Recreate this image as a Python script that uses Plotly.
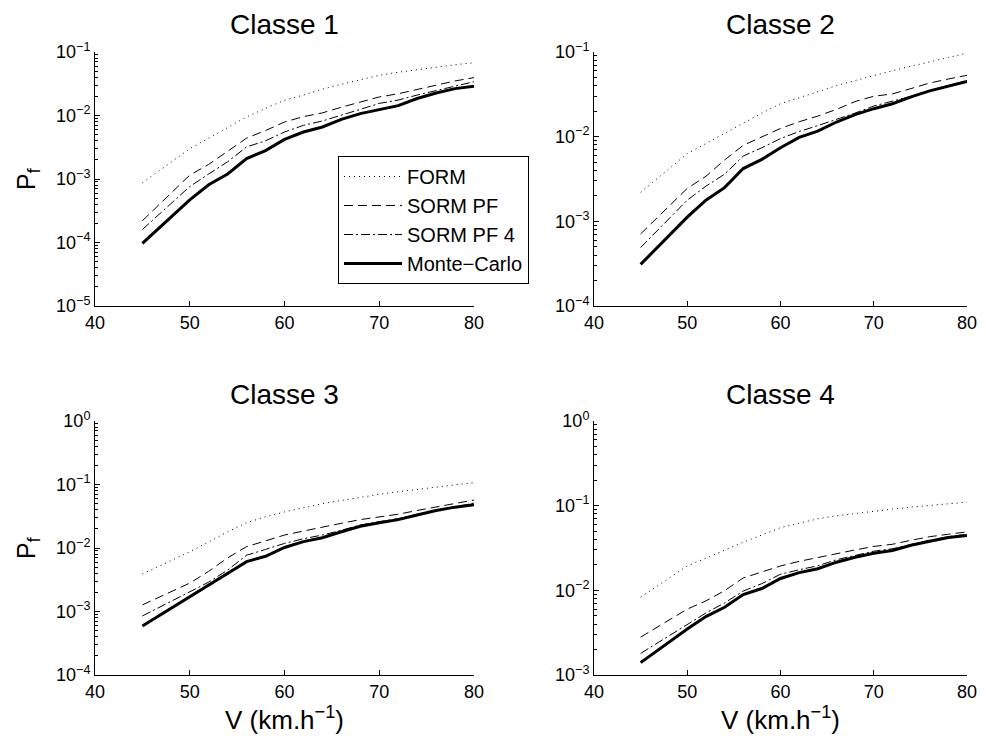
import plotly.graph_objects as go

V = [45, 50, 52, 54, 56, 58, 60, 62, 64, 66, 68, 70, 72, 74, 76, 78, 80]

series_names = ["FORM", "SORM PF", "SORM PF 4", "Monte\u2212Carlo"]

# Classe 1
c1_form = [8.7e-4, 3.0e-3, 4.4e-3, 6.5e-3, 9.5e-3, 1.3e-2, 1.74e-2, 2.1e-2, 2.6e-2, 3.1e-2, 3.7e-2, 4.3e-2, 4.8e-2, 5.3e-2, 5.8e-2, 6.3e-2, 6.8e-2]
c1_sorm = [2.2e-4, 1.15e-3, 1.7e-3, 2.7e-3, 4.4e-3, 5.8e-3, 7.9e-3, 9.6e-3, 1.1e-2, 1.35e-2, 1.65e-2, 1.96e-2, 2.2e-2, 2.6e-2, 3.0e-2, 3.5e-2, 3.95e-2]
c1_sorm4 = [1.6e-4, 7.6e-4, 1.2e-3, 1.87e-3, 3.2e-3, 4.0e-3, 5.5e-3, 7.0e-3, 8.2e-3, 1.0e-2, 1.25e-2, 1.55e-2, 1.75e-2, 2.1e-2, 2.5e-2, 2.9e-2, 3.4e-2]
c1_mc = [9.7e-5, 4.7e-4, 8.1e-4, 1.2e-3, 2.1e-3, 2.8e-3, 4.2e-3, 5.5e-3, 6.6e-3, 8.7e-3, 1.07e-2, 1.25e-2, 1.43e-2, 1.85e-2, 2.26e-2, 2.65e-2, 2.9e-2]

# Classe 2
c2_form = [2.2e-3, 6.3e-3, 8.3e-3, 1.1e-2, 1.45e-2, 1.9e-2, 2.45e-2, 2.9e-2, 3.4e-2, 4.0e-2, 4.6e-2, 5.3e-2, 6.0e-2, 6.8e-2, 7.6e-2, 8.6e-2, 9.7e-2]
c2_sorm = [7.1e-4, 2.45e-3, 3.4e-3, 5.3e-3, 7.9e-3, 1.0e-2, 1.25e-2, 1.5e-2, 1.75e-2, 2.1e-2, 2.6e-2, 3.0e-2, 3.2e-2, 3.7e-2, 4.3e-2, 4.8e-2, 5.3e-2]
c2_sorm4 = [4.9e-4, 1.78e-3, 2.6e-3, 3.6e-3, 5.9e-3, 7.4e-3, 9.5e-3, 1.15e-2, 1.35e-2, 1.6e-2, 1.9e-2, 2.3e-2, 2.6e-2, 3.0e-2, 3.5e-2, 4.0e-2, 4.6e-2]
c2_mc = [3.1e-4, 1.12e-3, 1.78e-3, 2.5e-3, 4.2e-3, 5.4e-3, 7.4e-3, 9.8e-3, 1.16e-2, 1.49e-2, 1.82e-2, 2.14e-2, 2.45e-2, 2.95e-2, 3.47e-2, 3.97e-2, 4.5e-2]

# Classe 3
c3_form = [3.9e-3, 8.7e-3, 1.25e-2, 1.8e-2, 2.5e-2, 3.1e-2, 3.7e-2, 4.3e-2, 5.0e-2, 5.6e-2, 6.3e-2, 7.0e-2, 7.7e-2, 8.4e-2, 9.1e-2, 9.9e-2, 1.07e-1]
c3_sorm = [1.27e-3, 2.8e-3, 4.3e-3, 7.0e-3, 1.05e-2, 1.3e-2, 1.6e-2, 1.85e-2, 2.1e-2, 2.45e-2, 2.8e-2, 3.1e-2, 3.4e-2, 3.9e-2, 4.4e-2, 5.0e-2, 5.7e-2]
c3_sorm4 = [8.5e-4, 2.0e-3, 2.9e-3, 4.5e-3, 7.7e-3, 9.5e-3, 1.18e-2, 1.4e-2, 1.6e-2, 1.9e-2, 2.3e-2, 2.6e-2, 2.9e-2, 3.4e-2, 3.9e-2, 4.5e-2, 5.1e-2]
c3_mc = [5.9e-4, 1.7e-3, 2.6e-3, 3.9e-3, 6.1e-3, 7.4e-3, 1.02e-2, 1.26e-2, 1.45e-2, 1.8e-2, 2.2e-2, 2.5e-2, 2.8e-2, 3.3e-2, 3.9e-2, 4.4e-2, 4.8e-2]

# Classe 4
c4_form = [8.3e-3, 1.94e-2, 2.4e-2, 3.0e-2, 3.7e-2, 4.5e-2, 5.5e-2, 6.2e-2, 7.0e-2, 7.6e-2, 8.1e-2, 8.6e-2, 9.1e-2, 9.6e-2, 1.0e-1, 1.05e-1, 1.1e-1]
c4_sorm = [2.8e-3, 6.0e-3, 7.5e-3, 9.9e-3, 1.4e-2, 1.65e-2, 1.94e-2, 2.2e-2, 2.45e-2, 2.75e-2, 3.0e-2, 3.3e-2, 3.5e-2, 3.9e-2, 4.3e-2, 4.6e-2, 4.9e-2]
c4_sorm4 = [1.8e-3, 4.0e-3, 5.4e-3, 7.1e-3, 9.8e-3, 1.2e-2, 1.55e-2, 1.75e-2, 1.95e-2, 2.3e-2, 2.6e-2, 2.9e-2, 3.1e-2, 3.5e-2, 3.9e-2, 4.3e-2, 4.6e-2]
c4_mc = [1.4e-3, 3.5e-3, 4.9e-3, 6.3e-3, 8.9e-3, 1.05e-2, 1.38e-2, 1.62e-2, 1.8e-2, 2.15e-2, 2.46e-2, 2.74e-2, 2.96e-2, 3.4e-2, 3.8e-2, 4.2e-2, 4.45e-2]

panel_titles = ["Classe 1", "Classe 2", "Classe 3", "Classe 4"]
y_ranges = [(-5, -1), (-4, -1), (-4, 0), (-3, 0)]
x_ticks = [40, 50, 60, 70, 80]
x_label = "V (km.h<sup>\u22121</sup>)"
y_label = "P<sub>f</sub>"

panels = [
    (c1_form, c1_sorm, c1_sorm4, c1_mc),
    (c2_form, c2_sorm, c2_sorm4, c2_mc),
    (c3_form, c3_sorm, c3_sorm4, c3_mc),
    (c4_form, c4_sorm, c4_sorm4, c4_mc),
]

OFF = 8  # page body margin
W, H = 986 - OFF, 740 - OFF


def px(x):
    return (x - OFF) / W


def py(y):
    return 1 - (y - OFF) / H


# pixel boxes of the axes in the screenshot (left, right, top, bottom)
boxes = [(95, 474, 52, 306), (594, 967, 52, 306), (95, 474, 421, 675), (594, 967, 421, 675)]

styles = [
    dict(color="black", width=1, dash="1px,4px"),
    dict(color="black", width=1, dash="9px,5px"),
    dict(color="black", width=1, dash="9px,3px,2px,3px"),
    dict(color="black", width=3, dash="solid"),
]

FONT = "Liberation Sans, Arial, sans-serif"
fig = go.Figure()
layout = dict(
    width=W, height=H, margin=dict(l=0, r=0, t=0, b=0, autoexpand=False),
    paper_bgcolor="white", plot_bgcolor="white",
    font=dict(family=FONT, color="black", size=18),
    showlegend=True,
    legend=dict(x=px(338), y=py(156), xanchor="left", yanchor="top",
                bordercolor="black", borderwidth=1, bgcolor="white",
                font=dict(size=20, family=FONT), itemwidth=58),
)
annotations = []
for i, (data, title, yr, box) in enumerate(zip(panels, panel_titles, y_ranges, boxes)):
    n = "" if i == 0 else str(i + 1)
    l, r, t, b = box
    xd = [px(l), px(r)]
    yd = [py(b), py(t)]
    for j, (vals, name, st) in enumerate(zip(data, series_names, styles)):
        fig.add_trace(go.Scatter(x=V, y=vals, mode="lines", name=name, line=st,
                                 xaxis="x" + n, yaxis="y" + n, showlegend=(i == 0)))
    major = [10 ** k for k in range(yr[0], yr[1] + 1)]
    minor = [m * 10 ** k for k in range(yr[0], yr[1]) for m in range(2, 10)]
    layout["xaxis" + n] = dict(domain=xd, anchor="y" + n, range=[40, 80], tickvals=x_ticks,
                              ticks="inside", ticklen=5, tickcolor="black", showline=True,
                              linecolor="black", linewidth=1, showgrid=False, zeroline=False,
                              tickfont=dict(size=18), automargin=False)
    layout["yaxis" + n] = dict(domain=yd, anchor="x" + n, type="log", range=list(yr),
                              tickvals=major,
                              ticktext=["10<sup>\u2212%d</sup>" % (-k) if k < 0 else "10<sup>%d</sup>" % k
                                        for k in range(yr[0], yr[1] + 1)],
                              ticks="inside", ticklen=5, tickcolor="black", showline=True,
                              linecolor="black", linewidth=1, showgrid=False, zeroline=False,
                              tickfont=dict(size=18), automargin=False,
                              minor=dict(tickmode="array", tickvals=minor, ticks="inside",
                                         ticklen=3, tickcolor="black", showgrid=False))
    cx = (l + r) / 2
    annotations.append(dict(text=title, x=px(cx), y=py(25) if i < 2 else py(394),
                            xref="paper", yref="paper", showarrow=False,
                            font=dict(size=28, family=FONT), xanchor="center", yanchor="middle"))
    if i % 2 == 0:
        annotations.append(dict(text=y_label, x=px(28), y=py((t + b) / 2), xref="paper",
                                yref="paper", showarrow=False, textangle=-90,
                                font=dict(size=25, family=FONT), xanchor="center", yanchor="middle"))
    if i >= 2:
        annotations.append(dict(text=x_label, x=px(cx), y=py(718), xref="paper",
                                yref="paper", showarrow=False,
                                font=dict(size=26, family=FONT), xanchor="center", yanchor="middle"))
layout["annotations"] = annotations
fig.update_layout(**layout)
fig.write_html("out.html")
